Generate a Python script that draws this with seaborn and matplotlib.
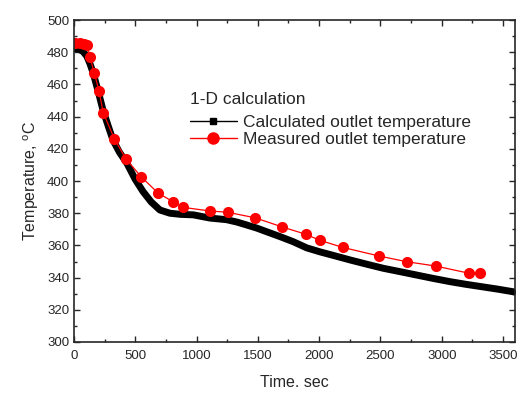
import numpy as np
import pandas as pd
import seaborn as sns
import matplotlib.pyplot as plt
from matplotlib.ticker import MultipleLocator

sns.set_style("ticks")
plt.rcParams['font.family'] = ['Liberation Sans', 'DejaVu Sans']

# calculated outlet temperature
calc_t = [0, 40, 76, 105, 130, 157, 200, 237, 280, 318, 370, 432, 500, 563, 630,
          701, 783, 870, 973, 1109, 1245, 1330, 1409, 1490, 1572, 1680, 1789,
          1898, 2007, 2130, 2251, 2390, 2523, 2660, 2795, 2930, 3067, 3200,
          3339, 3460, 3600]
calc_T = [482.5, 482.0, 480.3, 477.5, 473.0, 467.0, 455.0, 444.0, 434.0, 425.5,
          418.0, 411.0, 401.0, 393.5, 387.0, 382.0, 380.0, 379.3, 379.0, 377.0,
          376.0, 374.5, 372.7, 370.8, 368.5, 365.5, 362.3, 358.5, 356.0, 353.5,
          351.0, 348.3, 345.8, 343.7, 341.6, 339.5, 337.5, 335.8, 334.2, 332.8,
          331.0]

# measured outlet temperature
meas_t = [8, 49, 82, 108, 130, 166, 204, 239, 329, 424, 550, 688, 810, 886,
          1109, 1253, 1476, 1694, 1892, 2005, 2191, 2490, 2713, 2950, 3224, 3312]
meas_T = [485.9, 485.5, 485.1, 484.5, 477.2, 466.9, 456.1, 442.4, 426.3, 413.7,
          402.5, 392.4, 387.1, 383.7, 381.4, 380.6, 377.2, 371.6, 366.9, 363.2,
          358.8, 353.4, 349.9, 347.2, 342.7, 342.7]

calc = pd.DataFrame({"t": calc_t, "T": calc_T})
meas = pd.DataFrame({"t": meas_t, "T": meas_T})

fig = plt.figure(figsize=(5.21, 3.94), dpi=100)
ax = fig.add_axes([0.142, 0.132, 0.847, 0.817])

sns.lineplot(data=calc, x="t", y="T", ax=ax, color="black", lw=5,
             marker="s", markersize=3, markeredgewidth=0, sort=False)
sns.lineplot(data=meas, x="t", y="T", ax=ax, color="red", lw=0.9,
             marker="o", markersize=8, markeredgewidth=0, sort=False)

h1 = plt.Line2D([], [], color="black", lw=1, marker="s", markersize=4)
h2 = plt.Line2D([], [], color="red", lw=1, marker="o", markersize=8)
leg = ax.legend([h1, h2], ["Calculated outlet temperature",
                           "Measured outlet temperature"],
                title="1-D calculation", loc="upper left",
                bbox_to_anchor=(0.262, 0.778), frameon=False, fontsize=12.5,
                title_fontsize=12.5, handlelength=2.75, handletextpad=0.35,
                labelspacing=0.12, borderpad=0, borderaxespad=0)
leg._legend_box.align = "left"
leg._legend_box.sep = 6

ax.set_xlim(0, 3600)
ax.set_ylim(300, 500)
ax.xaxis.set_major_locator(MultipleLocator(500))
ax.xaxis.set_minor_locator(MultipleLocator(250))
ax.yaxis.set_major_locator(MultipleLocator(20))
ax.yaxis.set_minor_locator(MultipleLocator(10))
ax.tick_params(which="both", direction="in", top=True, right=True,
               labelsize=9.5, width=1)
ax.tick_params(which="major", length=4)
ax.tick_params(which="minor", length=2.5)
ax.tick_params(axis="x", pad=6)
for s in ax.spines.values():
    s.set_linewidth(1.2)

ax.set_xlabel("Time. sec", fontsize=11.5, labelpad=9)
ax.set_ylabel("Temperature, $^{\\mathregular{o}}$C", fontsize=11.5, labelpad=4)

fig.savefig("out.png", dpi=100)
